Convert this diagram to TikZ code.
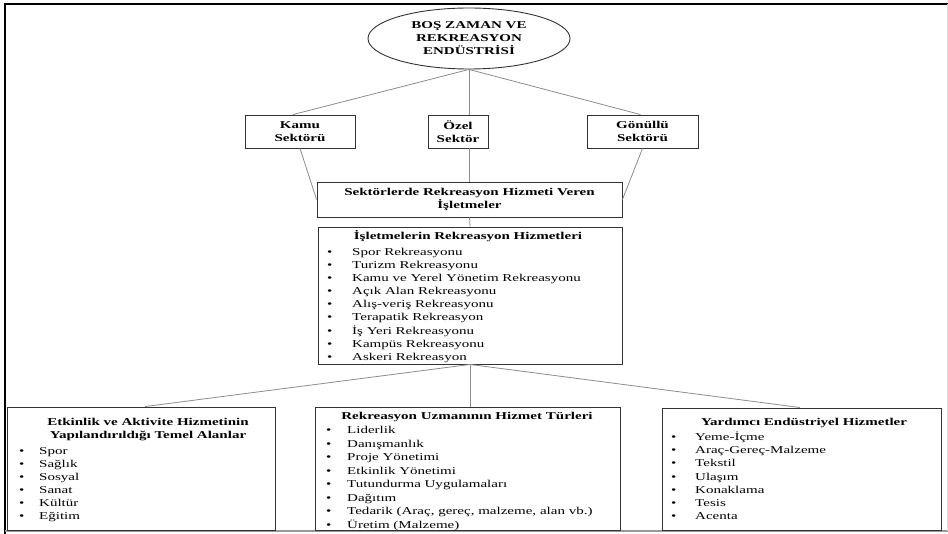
\documentclass[tikz,border=0pt]{standalone}
\usepackage{fontspec}
\setmainfont[FakeStretch=1.43]{Liberation Serif}
\usetikzlibrary{shapes.geometric,calc}
\definecolor{boxc}{HTML}{333333}
\definecolor{connc}{HTML}{8C8C8C}
\begin{document}
\begin{tikzpicture}[x=1pt,y=-1pt,
  box/.style={draw=boxc, line width=0.9pt, inner sep=0pt},
  conn/.style={draw=connc, line width=0.8pt},
  ttl/.style={font=\fontsize{10.5}{13}\selectfont\bfseries, align=center, inner sep=0pt},
  item/.style={font=\fontsize{10.5}{13}\selectfont, anchor=base west, inner sep=0pt},
]
\useasboundingbox (0,0) rectangle (948,534);
% frame
\draw[line width=2.4pt] (5,534) -- (5,4) -- (948,4);
\draw[draw=gray!80, line width=1.4pt] (5,531) -- (948,531);
\draw[draw=gray!25, line width=1pt] (947.5,4) -- (947.5,531);

% top part
\node[box, ellipse, minimum width=202pt, minimum height=61pt, ttl] (root) at (469,38.5) {BOŞ ZAMAN VE\\REKREASYON\\ENDÜSTRİSİ};
\node[box, minimum width=110pt, minimum height=33pt, ttl] (kamu) at (300,131.5) {Kamu\\Sektörü};
\node[box, minimum width=60pt, minimum height=33pt, ttl] (ozel) at (458,131.5) {Özel\\Sektör};
\node[box, minimum width=111pt, minimum height=33pt, ttl] (gonullu) at (642.5,131.5) {Gönüllü\\Sektörü};
\node[box, minimum width=305pt, minimum height=35pt, ttl] (sekt) at (469.5,199.5) {Sektörlerde Rekreasyon Hizmeti Veren\\İşletmeler};

% list boxes
\node[box, minimum width=304pt, minimum height=137pt] (isl) at (470,295.5) {};
\node[box, minimum width=268pt, minimum height=123pt] (left) at (141,468.5) {};
\node[box, minimum width=305pt, minimum height=123pt] (mid) at (467.5,468.5) {};
\node[box, minimum width=279pt, minimum height=122pt] (right) at (801.5,469) {};

% connectors
\draw[conn] (root.south) -- ($(kamu.north)+(-7,0)$);
\draw[conn] (root.south) -- (root.south |- ozel.north);
\draw[conn] (root.south) -- ($(gonullu.north)+(-2,0)$);
\draw[conn] (root.south |- ozel.south) -- (root.south |- sekt.north);
\draw[conn] (kamu.south) -- (sekt.west);
\draw[conn] (gonullu.south) -- (sekt.east);
\draw[conn] (sekt.south) -- (isl.north);
\draw[conn] (isl.south) -- ($(left.north)+(4,0)$);
\draw[conn] (isl.south) -- (isl.south |- mid.north);
\draw[conn] (isl.south) -- ($(right.north)+(-1.5,0)$);

% texts of middle list
\node[ttl] (islt) at (468,236) {İşletmelerin Rekreasyon Hizmetleri};
\foreach \t [count=\i] in {Spor Rekreasyonu, Turizm Rekreasyonu, Kamu ve Yerel Yönetim Rekreasyonu, Açık Alan Rekreasyonu, Alış-veriş Rekreasyonu, Terapatik Rekreasyon, İş Yeri Rekreasyonu, Kampüs Rekreasyonu, Askeri Rekreasyon}
  \node[item] (isl\i) at (327, 255.5+13.1*\i-13.1) {\makebox[25pt][l]{•}\t};

\node[ttl] (leftt) at (148,430) {Etkinlik ve Aktivite Hizmetinin\\Yapılandırıldığı Temel Alanlar};
\foreach \t [count=\i] in {Spor, Sağlık, Sosyal, Sanat, Kültür, Eğitim}
  \node[item] (left\i) at (19, 454.5+13*\i-13) {\makebox[20pt][l]{•}\t};

\node[ttl] (midt) at (467,417) {Rekreasyon Uzmanının Hizmet Türleri};
\foreach \t [count=\i] in {Liderlik, Danışmanlık, Proje Yönetimi, Etkinlik Yönetimi, Tutundurma Uygulamaları, Dağıtım, {Tedarik (Araç, gereç, malzeme, alan vb.)}, Üretim (Malzeme)}
  \node[item] (mid\i) at (326, 433.5+13.57*\i-13.57) {\makebox[21pt][l]{•}\t};

\node[ttl] (rightt) at (804,423) {Yardımcı Endüstriyel Hizmetler};
\foreach \t [count=\i] in {Yeme-İçme, Araç-Gereç-Malzeme, Tekstil, Ulaşım, Konaklama, Tesis, Acenta}
  \node[item] (right\i) at (671, 440.5+13.2*\i-13.2) {\makebox[24pt][l]{•}\t};
\end{tikzpicture}
\end{document}
